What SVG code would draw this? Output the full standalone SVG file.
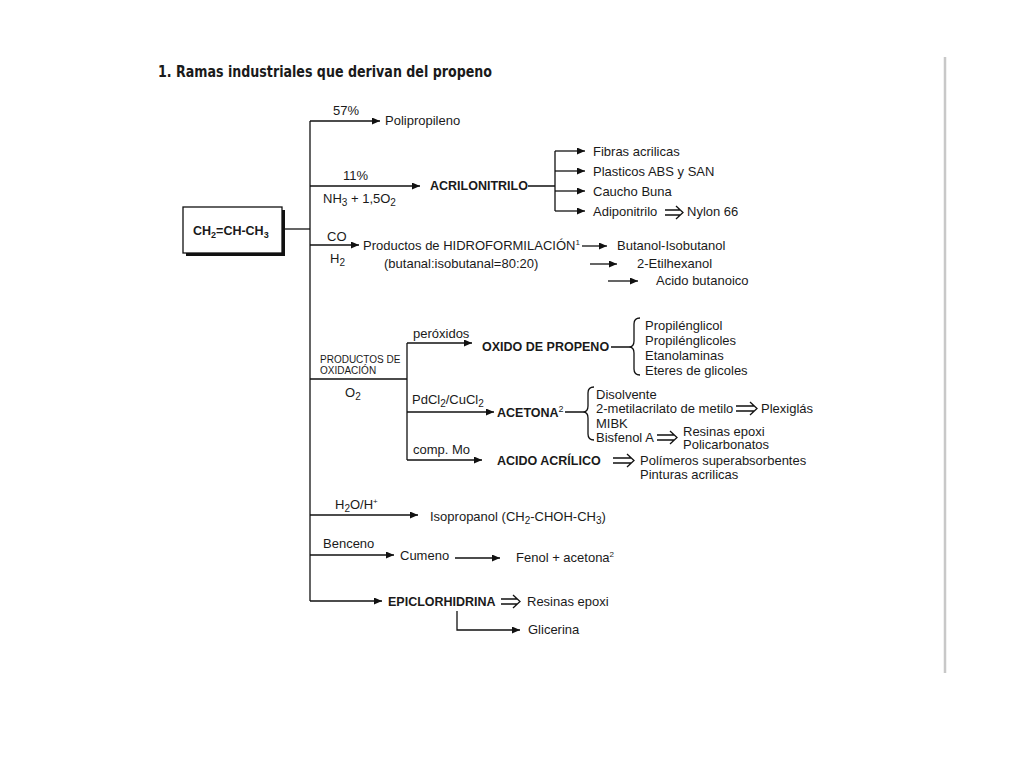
<svg xmlns="http://www.w3.org/2000/svg" width="1024" height="768" viewBox="0 0 1024 768">
<defs>
<marker id="ah" markerUnits="userSpaceOnUse" markerWidth="9" markerHeight="8" refX="8" refY="3.5" orient="auto"><path d="M0,0 L8,3.5 L0,7 z" fill="#111"/></marker>
<style>
text{font-family:"Liberation Sans",Arial,sans-serif;font-size:13px;fill:#1a1a1a}
.b{font-weight:bold;font-size:12.5px}
.s{font-size:10px}
.t{font-family:"DejaVu Sans Condensed","DejaVu Sans",sans-serif;font-weight:bold;font-size:16px}
.c path,.c line{stroke:#111;stroke-width:1.3;fill:none}
.a{marker-end:url(#ah)}
</style>
</defs>
<rect width="1024" height="768" fill="#fff"/>
<line x1="945" y1="57" x2="945" y2="673" stroke="#c8c8c8" stroke-width="2.5"/>
<text class="t" x="158" y="77" textLength="334" lengthAdjust="spacingAndGlyphs">1. Ramas industriales que derivan del propeno</text>

<g id="propeno">
<rect x="186" y="210" width="99" height="46" fill="#111"/>
<rect x="183" y="207" width="99" height="46" fill="#fff" stroke="#111" stroke-width="1.3"/>
<text class="b" x="193" y="235" font-size="13">CH<tspan dy="3" font-size="9">2</tspan><tspan dy="-3">=CH-CH</tspan><tspan dy="3" font-size="9">3</tspan></text>
</g>

<g class="c" id="connectors">
<path d="M282,229 H310"/>
<path d="M310,121 V601"/>
<path class="a" d="M310,121 H380"/>
<path class="a" d="M310,186 H420"/>
<path d="M528,186 H555 M555,151 V211"/>
<path class="a" d="M555,151 H585"/>
<path class="a" d="M555,171 H585"/>
<path class="a" d="M555,191 H585"/>
<path class="a" d="M555,211 H585"/>
<path class="a" d="M310,245 H359"/>
<path class="a" d="M582,246 H607"/>
<path class="a" d="M590,264 H617"/>
<path class="a" d="M608,281 H638"/>
<path d="M310,379 H407 M407,343 V460"/>
<path class="a" d="M407,343 H472"/>
<path d="M611,347 H629 M640,318 Q634,318 634,324 V341 Q634,347 629,347 Q634,347 634,353 V369 Q634,375 640,375"/>
<path class="a" d="M407,412 H494"/>
<path d="M565,412 H583 M594,387 Q588,387 588,393 V406 Q588,412 583,412 Q588,412 588,418 V434 Q588,440 594,440"/>
<path class="a" d="M407,460 H482"/>
<path class="a" d="M310,515 H418"/>
<path class="a" d="M310,555 H394"/>
<path class="a" d="M455,558 H500"/>
<path class="a" d="M310,601 H382"/>
<path class="a" d="M457,611 V630 H520"/>
<path d="M665,210 H680 M665,215 H680 M676,206 L683,212.5 L676,219"/>
<path d="M736,406 H754 M736,411 H754 M750,402 L757,408.5 L750,415"/>
<path d="M657,435 H674 M657,440 H674 M670,431 L677,437.5 L670,444"/>
<path d="M613,458 H631 M613,463 H631 M627,454 L634,460.5 L627,467"/>
<path d="M501,599 H517 M501,604 H517 M513,595 L520,601.5 L513,608"/>
</g>

<g id="polipropileno">
<text x="333" y="115">57%</text>
<text x="385" y="125">Polipropileno</text>
</g>
<g id="acrilonitrilo">
<text x="343" y="180">11%</text>
<text x="323" y="203">NH<tspan dy="3" font-size="10">3</tspan><tspan dy="-3"> + 1,5O</tspan><tspan dy="3" font-size="10">2</tspan></text>
<text class="b" x="430" y="190">ACRILONITRILO</text>
</g>
<g id="acrilo-productos">
<text x="593" y="156">Fibras acrilicas</text>
<text x="593" y="176">Plasticos ABS y SAN</text>
<text x="593" y="196">Caucho Buna</text>
<text x="593" y="216">Adiponitrilo</text>
<text x="687" y="216">Nylon 66</text>
</g>
<g id="hidroformilacion">
<text x="327" y="241">CO</text>
<text x="330" y="263">H<tspan dy="3" font-size="10">2</tspan></text>
<text x="363" y="250">Productos de HIDROFORMILACIÓN<tspan dy="-5" font-size="8">1</tspan></text>
<text x="384" y="268">(butanal:isobutanal=80:20)</text>
<text x="617" y="250">Butanol-Isobutanol</text>
<text x="637" y="268">2-Etilhexanol</text>
<text x="656" y="285">Acido butanoico</text>
</g>
<g id="oxidacion">
<text class="s" x="320" y="363">PRODUCTOS DE</text>
<text class="s" x="320" y="374">OXIDACIÓN</text>
<text x="345" y="397">O<tspan dy="3" font-size="10">2</tspan></text>
</g>
<g id="oxido-propeno">
<text x="413" y="338">peróxidos</text>
<text class="b" x="482" y="351">OXIDO DE PROPENO</text>
<text x="645" y="330">Propilénglicol</text>
<text x="645" y="345">Propilénglicoles</text>
<text x="645" y="360">Etanolaminas</text>
<text x="645" y="375">Eteres de glicoles</text>
</g>
<g id="acetona">
<text x="412" y="404">PdCl<tspan dy="3" font-size="10">2</tspan><tspan dy="-3">/CuCl</tspan><tspan dy="3" font-size="10">2</tspan></text>
<text class="b" x="497" y="417">ACETONA<tspan dy="-5" font-size="9" font-weight="normal">2</tspan></text>
<text x="596" y="399">Disolvente</text>
<text x="596" y="413">2-metilacrilato de metilo</text>
<text x="761" y="413">Plexiglás</text>
<text x="596" y="428">MIBK</text>
<text x="596" y="442">Bisfenol A</text>
<text x="683" y="436">Resinas epoxi</text>
<text x="683" y="449">Policarbonatos</text>
</g>
<g id="acido-acrilico">
<text x="413" y="454">comp. Mo</text>
<text class="b" x="497" y="465">ACIDO ACRÍLICO</text>
<text x="640" y="465">Polímeros superabsorbentes</text>
<text x="640" y="479">Pinturas acrilicas</text>
</g>
<g id="isopropanol">
<text x="335" y="509">H<tspan dy="3" font-size="10">2</tspan><tspan dy="-3">O/H</tspan><tspan dy="-5" font-size="8">+</tspan></text>
<text x="430" y="521">Isopropanol (CH<tspan dy="3" font-size="10">2</tspan><tspan dy="-3">-CHOH-CH</tspan><tspan dy="3" font-size="10">3</tspan><tspan dy="-3">)</tspan></text>
</g>
<g id="cumeno">
<text x="323" y="548">Benceno</text>
<text x="400" y="560">Cumeno</text>
<text x="516" y="562">Fenol + acetona<tspan dy="-5" font-size="8">2</tspan></text>
</g>
<g id="epiclorhidrina">
<text class="b" x="388" y="606">EPICLORHIDRINA</text>
<text x="527" y="606">Resinas epoxi</text>
<text x="528" y="634">Glicerina</text>
</g>
</svg>
